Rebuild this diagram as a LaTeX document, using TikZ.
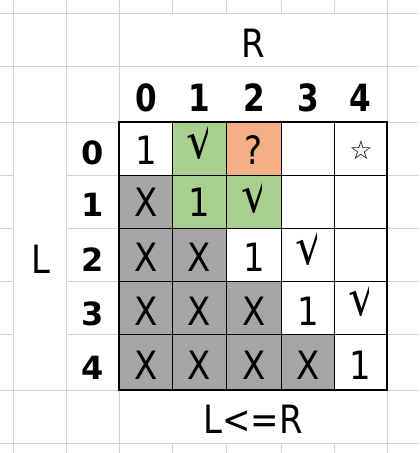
\documentclass[tikz,border=0pt]{standalone}
\usepackage{fontspec}
\setmainfont{DejaVu Sans}[FakeStretch=0.87]
\newfontfamily\hdrfont{DejaVu Sans}[FakeStretch=0.83]
\newfontfamily\rowfont{DejaVu Sans}
\newfontfamily\chkfont{DejaVu Sans}[FakeStretch=0.9]
\newfontfamily\symfont{DejaVu Sans}
\definecolor{gridc}{HTML}{D4D4D4}
\definecolor{xgray}{HTML}{A6A6A6}
\definecolor{okgreen}{HTML}{A9D08E}
\definecolor{qorange}{HTML}{F4B084}
\newcommand{\chkmark}[3]{% name, cell centre x, baseline
  \begin{scope}
    \clip (#2-20,#3-60) rectangle (#2+8.1,#3+12);
    \node[chk] (#1) at (#2+2,#3) {√};
  \end{scope}}
\begin{document}
\begin{tikzpicture}[x=1bp,y=-1bp,
  gridline/.style={draw=gridc, line width=1bp},
  innerline/.style={draw=black, line width=0.9bp},
  outerline/.style={draw=black, line width=2bp},
  celltxt/.style={anchor=base, inner sep=0pt, font=\fontsize{39bp}{44bp}\selectfont},
  chk/.style={anchor=base, inner sep=0pt, font=\chkfont\fontsize{51bp}{60bp}\selectfont},
  hdr/.style={anchor=base, inner sep=0pt, font=\hdrfont\bfseries\fontsize{37.5bp}{44bp}\selectfont},
  rowlab/.style={anchor=base, inner sep=0pt, font=\rowfont\bfseries\fontsize{32bp}{40bp}\selectfont},
  startxt/.style={anchor=center, inner sep=0pt, font=\symfont\bfseries\fontsize{26bp}{30bp}\selectfont}]
\fill[white] (0,0) rectangle (419,453);
\useasboundingbox (0,0) rectangle (419,453);
% spreadsheet grid lines
\foreach \yy in {13.3,66.7,443} \draw[gridline] (0,\yy) -- (419,\yy);
\foreach \yy in {122.3,390} {\draw[gridline] (0,\yy) -- (119.3,\yy); \draw[gridline] (387,\yy) -- (419,\yy);}
\foreach \yy in {175.5,228.5,281,334.3} {\draw[gridline] (0,\yy) -- (13.3,\yy); \draw[gridline] (66.7,\yy) -- (119.3,\yy); \draw[gridline] (387,\yy) -- (419,\yy);}
\foreach \xx in {13.3,66.7,119.3,387} \draw[gridline] (\xx,0) -- (\xx,453);
\foreach \xx in {172.7,226,281.7,334.3} {\draw[gridline] (\xx,0) -- (\xx,13.3); \draw[gridline] (\xx,443) -- (\xx,453);}
% fills
\fill[okgreen] (172.7,122.3) rectangle (226,228.5);
\fill[okgreen] (226,175.5) rectangle (281.7,228.5);
\fill[qorange] (226,122.3) rectangle (281.7,175.5);
\fill[xgray] (119.3,175.5) rectangle (172.7,390);
\fill[xgray] (172.7,228.5) rectangle (226,390);
\fill[xgray] (226,281) rectangle (281.7,390);
\fill[xgray] (281.7,334.3) rectangle (334.3,390);
% table lines
\foreach \xx in {172.7,226,281.7,334.3} \draw[innerline] (\xx,122.3) -- (\xx,390);
\foreach \yy in {175.5,228.5,281,334.3} \draw[innerline] (119.3,\yy) -- (387,\yy);
\draw[outerline] (119.3,122.3) rectangle (387,390);
% titles
\node[celltxt] (rtitle) at (253.2,57.3) {R};
\node[celltxt] (ltitle) at (40.5,273.3) {L};
\node[celltxt] (cond) at (253.2,433.3) {L<=R};
% column headers
\node[hdr] (h0) at (146,111.5) {0};
\node[hdr] (h1) at (199.35,111.5) {1};
\node[hdr] (h2) at (253.85,111.5) {2};
\node[hdr] (h3) at (308,111.5) {3};
\node[hdr] (h4) at (360.65,111.5) {4};
% row labels
\node[rowlab] (r0) at (93,165) {0};
\node[rowlab] (r1) at (93,217) {1};
\node[rowlab] (r2) at (93,271.5) {2};
\node[rowlab] (r3) at (93,325) {3};
\node[rowlab] (r4) at (93,379.5) {4};
% row 0
\node[celltxt] (c00) at (146,165) {1};
\chkmark{c01}{199.35}{158.8}
\node[celltxt] (c02) at (253.85,165) {?};
\node[startxt] (c04) at (361,150) {☆};
% row 1
\node[celltxt] (c10) at (146,217) {X};
\node[celltxt] (c11) at (199.35,217) {1};
\chkmark{c12}{253.85}{212.5}
% row 2
\node[celltxt] (c20) at (146,271.5) {X};
\node[celltxt] (c21) at (199.35,271.5) {X};
\node[celltxt] (c22) at (253.85,271.5) {1};
\chkmark{c23}{308}{264.1}
% row 3
\node[celltxt] (c30) at (146,325) {X};
\node[celltxt] (c31) at (199.35,325) {X};
\node[celltxt] (c32) at (253.85,325) {X};
\node[celltxt] (c33) at (308,325) {1};
\chkmark{c34}{360.65}{315.8}
% row 4
\node[celltxt] (c40) at (146,379.5) {X};
\node[celltxt] (c41) at (199.35,379.5) {X};
\node[celltxt] (c42) at (253.85,379.5) {X};
\node[celltxt] (c43) at (308,379.5) {X};
\node[celltxt] (c44) at (360.65,379.5) {1};
\end{tikzpicture}
\end{document}
